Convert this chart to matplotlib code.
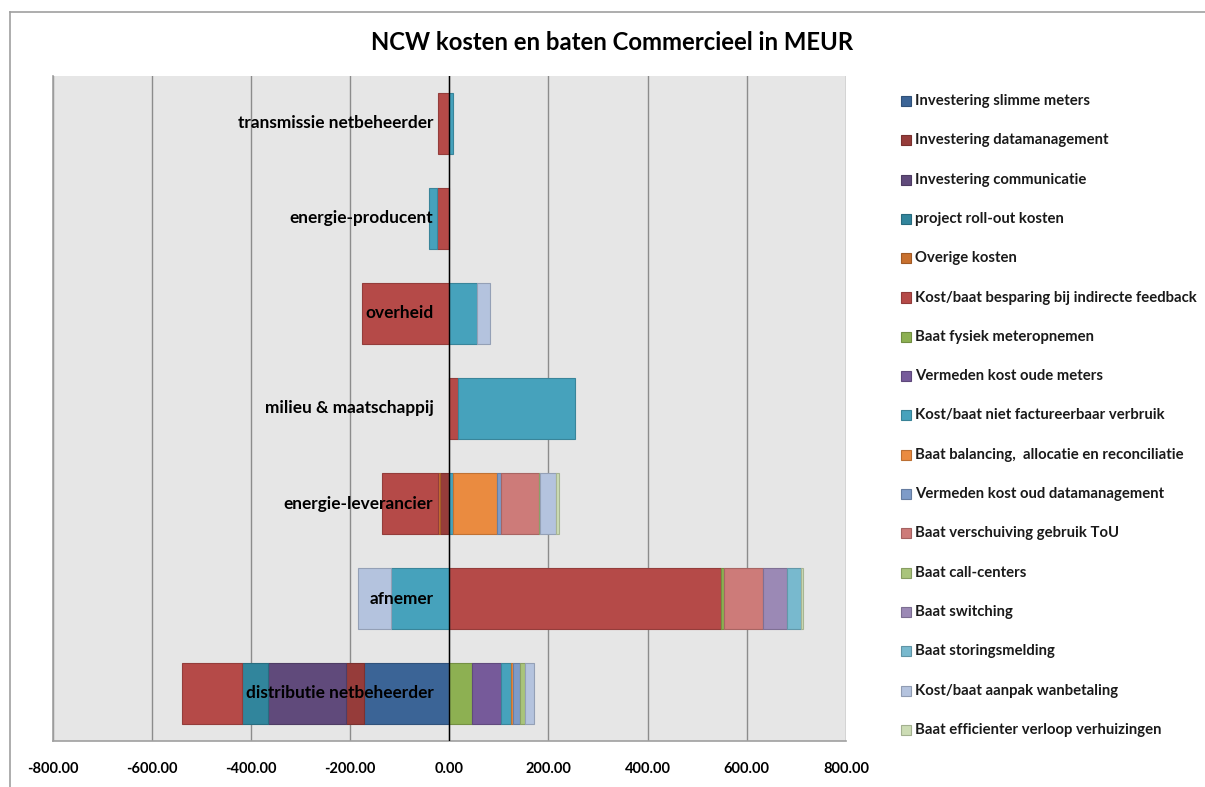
import numpy as np
import matplotlib
matplotlib.use("Agg")
import matplotlib.pyplot as plt
from matplotlib.colors import to_rgb
from matplotlib.patches import Rectangle
from matplotlib.lines import Line2D

plt.rcParams["font.family"] = ["Lato", "DejaVu Sans"]
plt.rcParams["axes.unicode_minus"] = False

# categories, bottom to top (Excel order)
categories = ["distributie netbeheerder", "afnemer", "energie-leverancier",
              "milieu & maatschappij", "overheid", "energie-producent",
              "transmissie netbeheerder"]

series_names = [
    "Investering slimme meters", "Investering datamanagement",
    "Investering communicatie", "project roll-out kosten", "Overige kosten",
    "Kost/baat besparing bij indirecte feedback", "Baat fysiek meteropnemen",
    "Vermeden kost oude meters", "Kost/baat niet factureerbaar verbruik",
    "Baat balancing,  allocatie en reconciliatie",
    "Vermeden kost oud datamanagement", "Baat verschuiving gebruik ToU",
    "Baat call-centers", "Baat switching", "Baat storingsmelding",
    "Kost/baat aanpak wanbetaling", "Baat efficienter verloop verhuizingen",
]

series_colors = ["#3B6496", "#963C3A", "#604A7B", "#31859C", "#C8702E",
                 "#B54A48", "#8DB052", "#765A9A", "#46A2BC", "#EA8B40",
                 "#7E9BC8", "#CD7B79", "#A9C47B", "#9B89B5", "#78B9CE",
                 "#B4C3DE", "#CCDCB4"]

# NCW in MEUR per series, values in category order above
slimme_meters      = [-171,    0,    0,   0,    0,   0,   0]
datamanagement     = [ -37,    0,  -19,   0,    0,   0,   0]
communicatie       = [-157,    0,    0,   0,    0,   0,   0]
roll_out           = [ -52,    0,    0,   0,    0,   0,   0]
overige_kosten     = [   0,    0,   -3,   0,    0,   0,   0]
indirecte_feedback = [-122,  548, -114,  17, -175, -24, -22]
fysiek_meteropn    = [  46,    5,    0,   0,    0,   0,   0]
oude_meters        = [  58,    0,    0,   0,    0,   0,   0]
niet_factureerbaar = [  20, -117,    7, 237,   55, -16,   7]
balancing          = [   4,    0,   89,   0,    0,   0,   0]
oud_datamanagement = [  14,    0,    8,   0,    0,   0,   0]
verschuiving_tou   = [   0,   79,   76,   0,    0,   0,   0]
call_centers       = [  10,    0,    3,   0,    0,   0,   0]
switching          = [   0,   50,    0,   0,    0,   0,   0]
storingsmelding    = [   0,   27,    0,   0,    0,   0,   0]
wanbetaling        = [  18,  -68,   32,   0,   27,   0,   0]
verhuizingen       = [   0,    4,    7,   0,    0,   0,   0]

series_values = [slimme_meters, datamanagement, communicatie, roll_out,
                 overige_kosten, indirecte_feedback, fysiek_meteropn,
                 oude_meters, niet_factureerbaar, balancing,
                 oud_datamanagement, verschuiving_tou, call_centers,
                 switching, storingsmelding, wanbetaling, verhuizingen]

W, H = 1205, 787
fig = plt.figure(figsize=(W / 100, H / 100), dpi=100)
ax = fig.add_axes([52.5 / W, 1 - 741 / H, (846 - 52.5) / W, (741 - 76) / H])
ax.set_facecolor("#E6E6E6")

y = np.arange(len(categories))
pos = np.zeros(len(categories))
neg = np.zeros(len(categories))
for vals, col in zip(series_values, series_colors):
    v = np.array(vals, dtype=float)
    left = np.where(v >= 0, pos, neg)
    edge = tuple(c * 0.82 for c in to_rgb(col))
    m = v != 0
    ax.barh(y[m], v[m], left=left[m], height=0.65, color=col,
            edgecolor=edge, linewidth=0.8, zorder=3)
    pos += np.where(v > 0, v, 0)
    neg += np.where(v < 0, v, 0)

ax.set_xlim(-800, 800)
ax.set_ylim(-0.5, len(categories) - 0.5)
ticks = np.arange(-800, 801, 200)
ax.set_xticks(ticks)
ax.set_xticklabels([f"{t:.2f}" for t in ticks], fontsize=10.5, fontweight="bold")
ax.tick_params(axis="x", length=0, pad=15)
ax.set_yticks([])
ax.grid(axis="x", color="#8C8C8C", linewidth=1.0, zorder=1)
ax.axvline(0, color="black", linewidth=1.0, zorder=4)
for s in ["top", "right"]:
    ax.spines[s].set_visible(False)
for s in ["left", "bottom"]:
    ax.spines[s].set_color("#A0A0A0")
    ax.spines[s].set_linewidth(1.2)

for yi, name in zip(y, categories):
    ax.text(-32, yi, name, ha="right", va="center", fontsize=12.4,
            fontweight="bold", color="black", zorder=6)

fig.text(612 / W, 1 - 42 / H, "NCW kosten en baten Commercieel in MEUR",
         ha="center", va="center", fontsize=17.2, fontweight="bold")

# legend
for i, (name, col) in enumerate(zip(series_names, series_colors)):
    yc = 101 + i * 39.3
    edge = tuple(c * 0.8 for c in to_rgb(col))
    fig.patches.append(Rectangle((901 / W, 1 - (yc + 5) / H), 10 / W, 10 / H,
                                 transform=fig.transFigure, facecolor=col,
                                 edgecolor=edge, linewidth=0.8))
    fig.text(915 / W, 1 - yc / H, name, ha="left", va="center",
             fontsize=10.7, fontweight="bold", color="#1A1A1A")

# chart frame
fig.lines.append(Line2D([10 / W, 10 / W], [0, 1 - 12 / H], transform=fig.transFigure,
                        color="#A0A0A0", linewidth=1.2))
fig.lines.append(Line2D([10 / W, 1], [1 - 12 / H, 1 - 12 / H], transform=fig.transFigure,
                        color="#A0A0A0", linewidth=1.2))

fig.savefig("out.png", dpi=100)
